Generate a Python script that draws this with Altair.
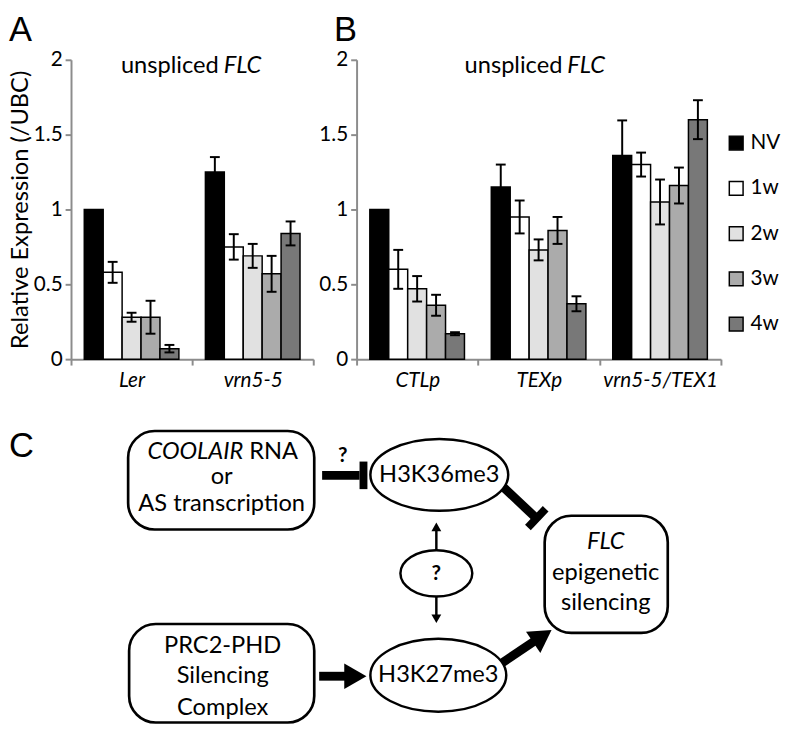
import altair as alt
import pandas as pd
import numpy as np

FONT = "Lato"
LETTER_FONT = "Liberation Sans"

# ---------------- data: panels A and B ----------------
series = ["NV", "1w", "2w", "3w", "4w"]
series_colors = ["#000000", "#ffffff", "#e1e1e1", "#ababab", "#787878"]
y_ticks = [0, 0.5, 1, 1.5, 2]

a_groups = ["Ler", "vrn5-5"]
a_ler = [1.00, 0.58, 0.28, 0.28, 0.07]
a_ler_err = [0.0, 0.07, 0.03, 0.11, 0.025]
a_vrn = [1.25, 0.75, 0.69, 0.57, 0.84]
a_vrn_err = [0.10, 0.085, 0.08, 0.12, 0.08]

b_groups = ["CTLp", "TEXp", "vrn5-5/TEX1"]
b_ctl = [1.00, 0.60, 0.47, 0.36, 0.17]
b_ctl_err = [0.0, 0.13, 0.085, 0.07, 0.01]
b_tex = [1.15, 0.95, 0.73, 0.86, 0.37]
b_tex_err = [0.15, 0.11, 0.07, 0.09, 0.05]
b_vt = [1.36, 1.30, 1.05, 1.16, 1.60]
b_vt_err = [0.235, 0.08, 0.15, 0.12, 0.13]

# ---------------- data: panel C (diagram, page-pixel units) ----------------
box_x1 = [129, 130, 552]
box_x2 = [318, 318, 677]
box_y1 = [432, 628, 518]
box_y2 = [532, 728, 637]

ell_cx = [445, 444, 442]
ell_cy = [476.5, 680, 576.5]
ell_w = [140, 138, 73]
ell_h = [73, 74, 47]

line_x1 = [326, 368, 509, 535, 323, 508, 442, 442]
line_y1 = [477, 463, 488, 530, 681, 668, 553, 600]
line_x2 = [364, 368, 543, 553, 350, 545, 442, 442]
line_y2 = [477, 491, 520, 511, 681, 643, 530, 622]
line_w = [9, 8, 9, 8, 9, 9, 2.5, 2.5]

head_tx = [371, 559, 442, 442]
head_ty = [681, 634, 525, 627]
head_ang = [90, 56, 0, 180]
head_base = [26, 26, 10, 10]

txt_normal = ["or", "AS transcription", "PRC2-PHD", "Silencing", "Complex",
              "H3K36me3", "H3K27me3", "epigenetic", "silencing"]
txt_normal_x = [224, 224, 225, 225, 225, 445, 444, 614, 614]
txt_normal_y = [479, 506, 650, 681, 713, 477, 680, 576, 607]
txt_italic = ["FLC"]
txt_italic_x = [614]
txt_italic_y = [545]
txt_bold = ["?", "?"]
txt_bold_x = [347, 442]
txt_bold_y = [457, 577]


def make_df(groups, vals, errs):
    rows = []
    for g, vs, es in zip(groups, vals, errs):
        for s, v, e in zip(series, vs, es):
            rows.append({"group": g, "series": s, "value": v, "err": e,
                         "lo": v - e, "hi": v + e})
    return pd.DataFrame(rows)


df_a = make_df(a_groups, [a_ler, a_vrn], [a_ler_err, a_vrn_err])
df_b = make_df(b_groups, [b_ctl, b_tex, b_vt], [b_ctl_err, b_tex_err, b_vt_err])

GRAY = "#8c8c8c"


def bar_panel(df, groups, width, y_title, legend, letter, letter_x, split_x):
    x_axis = alt.Axis(tickBand="extent", labelAngle=0, labelFontStyle="italic",
                      labelFontSize=21, labelFont=FONT, labelColor="black",
                      domainColor=GRAY, domainWidth=2, tickColor=GRAY,
                      tickWidth=2, tickSize=6, labelPadding=5, title=None)
    xscale = alt.Scale(paddingInner=0, paddingOuter=0)
    xenc = alt.X("group:N", sort=groups, scale=xscale, axis=x_axis)
    xoff = alt.XOffset("series:N", sort=series,
                       scale=alt.Scale(domain=series, paddingInner=0, paddingOuter=0.7))
    yscale = alt.Scale(domain=[0, 2], nice=False)
    axis_kw = dict(values=y_ticks, format="~g", grid=False, labelFontSize=21,
                   labelFont=FONT, labelColor="black", domainColor=GRAY,
                   domainWidth=2, tickColor=GRAY, tickWidth=2, tickSize=6,
                   labelPadding=3)
    if y_title:
        yaxis = alt.Axis(title=y_title, titleFont=FONT, titleFontSize=24,
                         titleFontWeight="normal", titleColor="black",
                         titleX=-51, titleBaseline="middle", titleAngle=270,
                         **axis_kw)
    else:
        yaxis = alt.Axis(title=None, **axis_kw)

    base = alt.Chart(df)
    bars = base.mark_bar(stroke="black", strokeWidth=1.5).encode(
        x=xenc, xOffset=xoff,
        y=alt.Y("value:Q", scale=yscale, axis=yaxis),
        color=alt.Color("series:N", sort=series,
                        scale=alt.Scale(domain=series, range=series_colors),
                        legend=legend),
    )
    eb = base.transform_filter("datum.err > 0")
    rule = eb.mark_rule(color="black", strokeWidth=2).encode(
        x=xenc, xOffset=xoff, y="lo:Q", y2="hi:Q")
    cap_lo = eb.mark_tick(color="black", thickness=2, size=10, opacity=1).encode(
        x=xenc, xOffset=xoff, y="lo:Q")
    cap_hi = eb.mark_tick(color="black", thickness=2, size=10, opacity=1).encode(
        x=xenc, xOffset=xoff, y="hi:Q")

    tdf = pd.DataFrame({"a": ["unspliced"], "b": ["FLC"], "l": [letter]})
    t1 = alt.Chart(tdf).mark_text(align="right", baseline="alphabetic",
                                  font=FONT, fontSize=24, color="black").encode(
        x=alt.value(split_x - 2), y=alt.value(13), text="a:N")
    t2 = alt.Chart(tdf).mark_text(align="left", baseline="alphabetic", font=FONT,
                                  fontSize=24, fontStyle="italic", color="black").encode(
        x=alt.value(split_x + 3), y=alt.value(13), text="b:N")
    lt = alt.Chart(tdf).mark_text(align="left", baseline="alphabetic",
                                  font=LETTER_FONT, fontSize=35, color="black").encode(
        x=alt.value(letter_x), y=alt.value(-19), text="l:N")
    return alt.layer(bars, rule, cap_lo, cap_hi, t1, t2, lt).properties(
        width=width, height=304)


legend_b = alt.Legend(orient="none", legendX=375, legendY=74, title=None,
                      symbolType="square", symbolSize=196, symbolStrokeColor="black",
                      symbolStrokeWidth=1.5, labelFontSize=21,
                      labelFont=FONT, labelColor="black", rowPadding=24,
                      labelOffset=4)

panel_a = bar_panel(df_a, a_groups, 246, "Relative Expression (/UBC)", None, "A", -63, 152)
panel_b = bar_panel(df_b, b_groups, 370, None, legend_b, "B", -23, 211)

# ---------------- panel C ----------------
# 1 unit = 1 px; the view is one grid cell wide, marks extend to the right
CX = alt.Scale(domain=[71, 317])
CY = alt.Scale(domain=[400, 730], reverse=True)

boxes = pd.DataFrame({"x1": box_x1, "x2": box_x2, "y1": box_y1, "y2": box_y2})
box_layer = alt.Chart(boxes).mark_rect(cornerRadius=27, fill="white", stroke="black",
                                       strokeWidth=2.7).encode(
    x=alt.X("x1:Q", scale=CX, axis=None), x2="x2:Q",
    y=alt.Y("y1:Q", scale=CY, axis=None), y2="y2:Q")

ell = pd.DataFrame({"x": ell_cx, "y": ell_cy, "w": ell_w, "h": ell_h})
ell["path"] = [f"M-1,0A1,{h / w:.4f},0,1,1,1,0A1,{h / w:.4f},0,1,1,-1,0Z"
               for w, h in zip(ell_w, ell_h)]
ell["sz"] = [w * w for w in ell_w]
ell_layer = alt.Chart(ell).mark_point(filled=True, fill="white", stroke="black",
                                      strokeWidth=2.5, opacity=1).encode(
    x=alt.X("x:Q", scale=CX, axis=None), y=alt.Y("y:Q", scale=CY, axis=None),
    shape=alt.Shape("path:N", scale=None), size=alt.Size("sz:Q", scale=None))

lines = pd.DataFrame({"x1": line_x1, "y1": line_y1, "x2": line_x2, "y2": line_y2,
                      "sw": line_w})
line_layer = alt.Chart(lines).mark_rule(color="black", strokeCap="butt").encode(
    x=alt.X("x1:Q", scale=CX, axis=None), x2="x2:Q",
    y=alt.Y("y1:Q", scale=CY, axis=None), y2="y2:Q",
    strokeWidth=alt.StrokeWidth("sw:Q", scale=None))

ang = np.radians(head_ang)
hh = np.sqrt(3) / 4 * np.array(head_base)
heads = pd.DataFrame({
    "x": np.array(head_tx) - hh * np.sin(ang),
    "y": np.array(head_ty) + hh * np.cos(ang),
    "ang": head_ang,
    "sz": np.array(head_base) ** 2,
})
head_layer = alt.Chart(heads).mark_point(shape="triangle-up", filled=True,
                                         color="black", opacity=1).encode(
    x=alt.X("x:Q", scale=CX, axis=None), y=alt.Y("y:Q", scale=CY, axis=None),
    angle=alt.Angle("ang:Q", scale=None), size=alt.Size("sz:Q", scale=None))


def text_layer(texts, xs, ys, **kw):
    d = pd.DataFrame({"t": texts, "x": xs, "y": ys})
    params = dict(font=FONT, fontSize=24, color="black", baseline="middle")
    params.update(kw)
    return alt.Chart(d).mark_text(**params).encode(
        x=alt.X("x:Q", scale=CX, axis=None), y=alt.Y("y:Q", scale=CY, axis=None),
        text="t:N")


tl_normal = text_layer(txt_normal, txt_normal_x, txt_normal_y, align="center")
tl_italic = text_layer(txt_italic, txt_italic_x, txt_italic_y, align="center",
                       fontStyle="italic")
tl_bold = text_layer(txt_bold, txt_bold_x, txt_bold_y, align="center",
                     fontWeight="bold", fontSize=21)
tl_cool = text_layer(["COOLAIR"], [246], [453], align="right", fontStyle="italic")
tl_rna = text_layer(["RNA"], [252], [453], align="left")
tl_c = text_layer(["C"], [8], [458], align="left", baseline="alphabetic",
                  font=LETTER_FONT, fontSize=35)

panel_c = alt.layer(box_layer, line_layer, head_layer, ell_layer, tl_normal,
                    tl_italic, tl_bold, tl_cool, tl_rna, tl_c).properties(
    width=246, height=330)

chart = alt.concat(panel_a, panel_b, panel_c, columns=2,
                   spacing={"row": 41, "column": 44}, bounds="flush").resolve_scale(
    color="independent"
).properties(
    padding=0, background="white"
).configure_view(stroke=None)

chart.save("out.html", embed_options={"renderer": "svg", "actions": False})
